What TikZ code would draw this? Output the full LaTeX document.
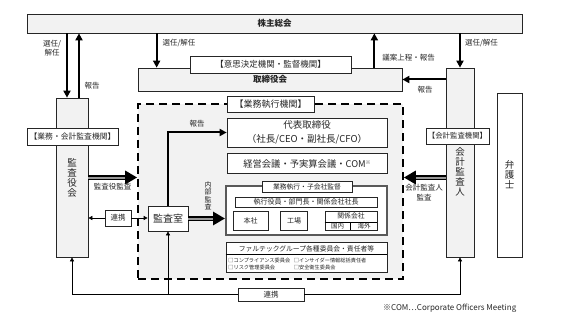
\documentclass[tikz,border=0pt]{standalone}
\usepackage{fontspec}
\setmainfont{Noto Sans CJK JP}
\usepackage{xcolor}
\usepackage{tikz}
\usetikzlibrary{arrows.meta,positioning,calc}

\definecolor{panel}{HTML}{F2F2F2}
\definecolor{ink}{HTML}{262626}
\newcommand{\setfs}[1]{\fontsize{#1}{#1}\selectfont}

\begin{document}
\begin{tikzpicture}[
    x=1pt, y=-1pt,
    text=ink,
    base/.style={draw=ink, line width=0.7pt, inner sep=0pt, align=center},
    panelbox/.style={base, fill=panel},
    whitebox/.style={base, fill=white},
    tag/.style={whitebox, line width=0.6pt},
    vtext/.style={align=center, inner sep=0pt, font=\fontsize{9.5}{10}\selectfont},
    lbl/.style={inner sep=0pt, align=center, font=\fontsize{7.5}{9.5}\selectfont},
    arrow/.style={-{Triangle[length=7pt,width=7pt]}, line width=2pt},
    link/.style={-{Triangle[length=4pt,width=4pt]}, line width=0.7pt},
    audit/.style={-{Triangle[length=12pt,width=13pt]}, line width=4.6pt,
        postaction={draw, -, line width=2pt, black!40, shorten >=12pt}}
]
    \useasboundingbox (0,0) rectangle (565,318);

    % top level bodies
    \node[panelbox, minimum width=495pt, minimum height=19pt, font=\bfseries\setfs{8.5}] (soukai) at (274.5,23.5) {株主総会};
    \node[panelbox, minimum width=264pt, minimum height=23pt, font=\bfseries\setfs{8.5}] (torishimari) at (270,79.5) {\raisebox{-2pt}{取締役会}};
    \node[tag, minimum width=161pt, minimum height=17pt, font=\setfs{8.5}] (tag_ishi) at (270.5,64.5) {【意思決定機関・監督機関】};

    % audit columns
    \node[panelbox, minimum width=32pt, minimum height=159pt, vtext] (kansayaku) at (72,177.5) {監\\査\\役\\会};
    \node[tag, minimum width=91pt, minimum height=17pt, font=\setfs{7.8}] (tag_kansa) at (72.5,136.5) {【業務・会計監査機関】};
    \node[panelbox, minimum width=28pt, minimum height=189pt] (kaikei) at (460,162.5) {};
    \node[vtext] (kaikei_txt) at (460,171.5) {会\\計\\監\\査\\人};
    \node[tag, minimum width=63pt, minimum height=16pt, font=\setfs{7.4}] (tag_kaikei) at (457.5,136) {【会計監査機関】};
    \node[whitebox, minimum width=25pt, minimum height=164pt, vtext] (bengoshi) at (509.5,175) {弁\\護\\士};

    % execution area
    \node[draw=black, fill=panel, line width=1.6pt, dash pattern=on 8pt off 5pt,
        minimum width=265pt, minimum height=175pt, inner sep=0pt] (gyomu) at (270.5,191.5) {};
    \node[tag, minimum width=87pt, minimum height=16pt, font=\setfs{9}] (tag_gyomu) at (270.5,104) {【業務執行機関】};

    \node[whitebox, minimum width=160pt, minimum height=29pt, font=\fontsize{9.5}{14}\selectfont] (daihyo) at (307,132.5) {代表取締役\\（社長/CEO・副社長/CFO）};
    \node[whitebox, minimum width=160pt, minimum height=20pt, font=\setfs{9.3}, below=6pt of daihyo] (keiei) {経営会議・予実算会議・COM\raisebox{2.5pt}{\setfs{5}※}};

    \node[draw=black!65, line width=2pt, fill=white, minimum width=161pt, minimum height=49pt, inner sep=0pt] (shikkou) at (306.5,210.5) {};
    \node[whitebox, minimum width=90pt, minimum height=11pt, font=\setfs{6.8}] (tag_shikkou) at (307,186.5) {業務執行・子会社監督};
    \node[whitebox, minimum width=142pt, minimum height=10pt, font=\setfs{7}] (yakuin) at (306,202) {執行役員・部門長・関係会社社長};
    \node[whitebox, minimum width=35pt, minimum height=19pt, font=\setfs{7}] (honsha) at (250.5,220.5) {本社};
    \node[whitebox, minimum width=27pt, minimum height=19pt, font=\setfs{7}, right=12pt of honsha] (kojo) {工場};
    \node[whitebox, minimum width=52pt, minimum height=19pt] (kankei) at (351,220.5) {};
    \draw[line width=0.6pt] ([yshift=-1.5pt]kankei.west) -- ([yshift=-1.5pt]kankei.east);
    \draw[line width=0.6pt] ([xshift=-1pt,yshift=-1.5pt]kankei.center) -- ([xshift=-1pt]kankei.south);
    \node[lbl, font=\setfs{6.8}] (kankei_txt) at ([yshift=4.5pt]kankei.center) {関係会社};
    \node[lbl, font=\setfs{6.5}] (kokunai) at ([xshift=-13.5pt,yshift=4.2pt]kankei.south) {国内};
    \node[lbl, font=\setfs{6.5}] (kaigai) at ([xshift=13pt,yshift=4.2pt]kankei.south) {海外};

    \node[whitebox, minimum width=161pt, minimum height=30pt, below=6pt of shikkou] (iinkai) {};
    \node[lbl, font=\setfs{6.8}] (iinkai_title) at ([yshift=-6.5pt]iinkai.north) {ファルテックグループ各種委員会・責任者等};
    \draw[line width=0.6pt] ([yshift=-12pt]iinkai.north west) -- ([yshift=-12pt]iinkai.north east);
    \node[lbl, anchor=west, align=left, font=\fontsize{5.2}{7}\selectfont] (iinkai_l) at ([xshift=2.5pt,yshift=-22.5pt]iinkai.north west) {□コンプライアンス委員会\\□リスク管理委員会};
    \node[lbl, anchor=west, align=left, font=\fontsize{5.2}{7}\selectfont] (iinkai_r) at ([xshift=68pt,yshift=-22.5pt]iinkai.north west) {□インサイダー情報総括責任者\\□安全衛生委員会};

    \node[whitebox, minimum width=40pt, minimum height=25pt, font=\setfs{10}] (kansashitsu) at (168,218.5) {監査室};
    \node[whitebox, minimum width=26pt, minimum height=16pt, font=\setfs{7.5}] (renkei_l) at (118,218) {連携};
    \node[whitebox, minimum width=66pt, minimum height=13pt, font=\setfs{7.5}] (renkei_b) at (271,294.5) {連携};
    \node[lbl, anchor=west, font=\setfs{8}] (note) at (383,308) {※COM…Corporate Officers Meeting};

    % appointment and reports
    \draw[arrow] ([xshift=-5pt]kansayaku.north |- soukai.south) -- ([xshift=-5pt]kansayaku.north);
    \draw[arrow] ([xshift=7pt]kansayaku.north) -- ([xshift=7pt]kansayaku.north |- soukai.south);
    \draw[arrow] ([xshift=19pt]torishimari.north west |- soukai.south) -- ([xshift=19pt]torishimari.north west);
    \draw[arrow] ([xshift=-28pt]torishimari.north east) -- ([xshift=-28pt]torishimari.north east |- soukai.south);
    \draw[arrow] (kaikei.north |- soukai.south) -- (kaikei.north);
    \draw[arrow] (torishimari.east -| kaikei.west) -- (torishimari.east);
    \draw[arrow] (kansashitsu.north) |- (daihyo.west);

    \node[lbl] (l_sennin1) at (52,48) {選任/\\解任};
    \node[lbl] (l_houkoku1) at (92,86) {報告};
    \node[lbl] (l_sennin2) at (179,43) {選任/解任};
    \node[lbl] (l_gian) at (408.5,58) {議案上程・報告};
    \node[lbl] (l_sennin3) at (481.5,43) {選任/解任};
    \node[lbl] (l_houkoku2) at (425,90) {報告};
    \node[lbl] (l_houkoku3) at (197,124) {報告};

    % audits
    \draw[audit] (kansayaku.east) -- (kansayaku.east -| gyomu.west);
    \draw[audit] (kaikei.west |- kansayaku.east) -- (gyomu.east |- kansayaku.east);
    \draw[audit] (kansashitsu.east) -- (kansashitsu.east -| shikkou.west);
    \node[lbl] (l_kansayaku) at (112.5,187) {監査役監査};
    \node[lbl, font=\fontsize{7.5}{10}\selectfont] (l_kaikei) at (424,193) {会計監査人\\監査};
    \node[lbl, font=\fontsize{7}{7.5}\selectfont] (l_naibu) at (208,196) {内\\部\\監\\査};

    % cooperation
    \draw[link] (renkei_l.west) -- (renkei_l.west -| kansayaku.east);
    \draw[link] (renkei_l.east) -- (renkei_l.east -| kansashitsu.west);
    \draw[link] (renkei_b.west) -| (kansayaku.south);
    \draw[link] (renkei_b.west -| kansashitsu.south) -- (kansashitsu.south);
    \draw[link] (renkei_b.east) -| (kaikei.south);
\end{tikzpicture}
\end{document}
